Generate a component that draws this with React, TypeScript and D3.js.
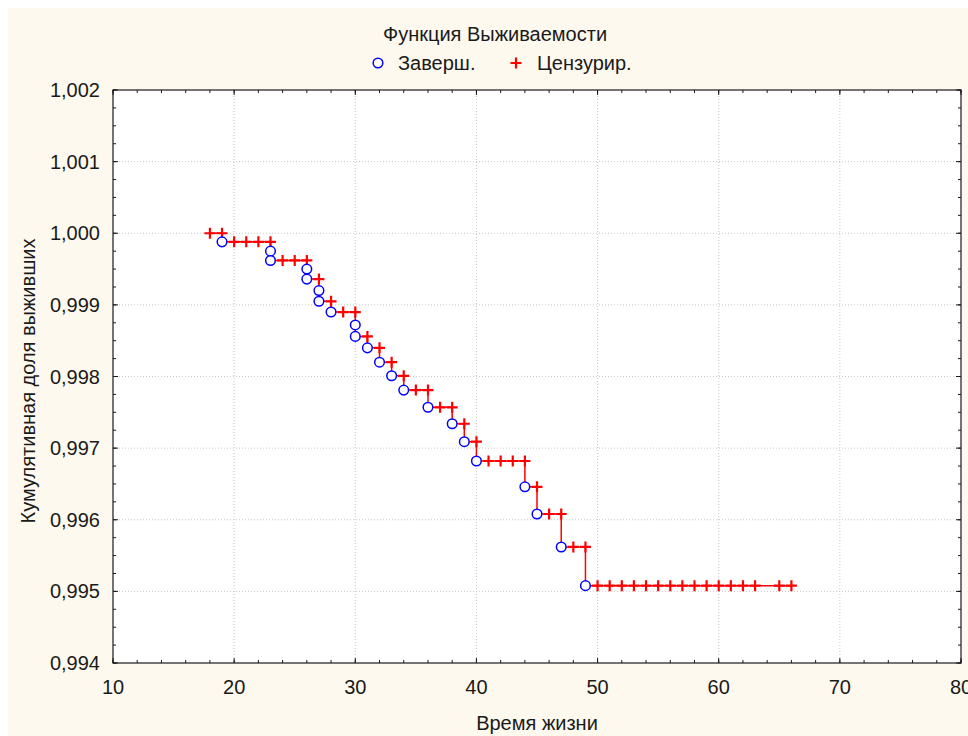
import React, { useEffect, useRef } from 'react';
import * as d3 from 'd3';

// Kaplan-Meier survival data
const completedTimes = [19, 23, 23, 26, 26, 27, 27, 28, 30, 30, 31, 32, 33, 34, 36, 38, 39, 40, 44, 45, 47, 49];
const completedSurv = [0.99988, 0.99975, 0.99962, 0.99950, 0.99936, 0.99920, 0.99905, 0.99890, 0.99872, 0.99856,
  0.99840, 0.99820, 0.99801, 0.99781, 0.99757, 0.99734, 0.99709, 0.99682, 0.99646, 0.99608, 0.99562, 0.99508];

const censoredTimes = [18, 19, 20, 21, 22, 23, 24, 25, 26, 27, 28, 29, 30, 31, 32, 33, 34, 35, 36, 37, 38, 39, 40,
  41, 42, 43, 44, 45, 46, 47, 48, 49, 50, 51, 52, 53, 54, 55, 56, 57, 58, 59, 60, 61, 62, 63, 65, 66];
const censoredSurv = [1.0, 1.0, 0.99988, 0.99988, 0.99988, 0.99988, 0.99962, 0.99962, 0.99962, 0.99936, 0.99905,
  0.99890, 0.99890, 0.99856, 0.99840, 0.99820, 0.99801, 0.99781, 0.99781, 0.99757, 0.99757, 0.99734, 0.99709,
  0.99682, 0.99682, 0.99682, 0.99682, 0.99646, 0.99608, 0.99608, 0.99562, 0.99562,
  0.99508, 0.99508, 0.99508, 0.99508, 0.99508, 0.99508, 0.99508, 0.99508, 0.99508, 0.99508, 0.99508, 0.99508,
  0.99508, 0.99508, 0.99508, 0.99508];

const xTicks = [10, 20, 30, 40, 50, 60, 70, 80];
const yTicks = [0.994, 0.995, 0.996, 0.997, 0.998, 0.999, 1.0, 1.001, 1.002];

const chartTitle = 'Функция Выживаемости';
const legendLabels = ['Заверш.', 'Цензурир.'];
const xLabel = 'Время жизни';
const yLabel = 'Кумулятивная доля выживших';

const SurvivalChart = () => {
  const svgRef = useRef(null);

  useEffect(() => {
    const W = 960;
    const H = 728;
    const margin = { top: 82, right: 7, bottom: 73, left: 105 };
    const width = W - margin.left - margin.right;
    const height = H - margin.top - margin.bottom;
    const font = '"Liberation Sans", Arial, sans-serif';
    const fs = '20px';
    const ink = '#1a1a1a';

    const root = d3.select(svgRef.current);
    root.selectAll('*').remove();
    root.attr('width', W).attr('height', H);

    root.append('rect')
      .attr('width', W).attr('height', H)
      .attr('fill', '#fdf9ee');

    const svg = root.append('g')
      .attr('transform', `translate(${margin.left},${margin.top})`);

    const x = d3.scaleLinear().domain([10, 80]).range([0, width]);
    const y = d3.scaleLinear().domain([0.994, 1.002]).range([height, 0]);

    svg.append('rect')
      .attr('width', width).attr('height', height)
      .attr('fill', '#ffffff');

    // dotted grid
    svg.selectAll('.gx')
      .data(xTicks.slice(1, -1))
      .enter().append('line')
      .attr('x1', d => x(d)).attr('x2', d => x(d))
      .attr('y1', 0).attr('y2', height)
      .attr('stroke', '#c8c8c8').attr('stroke-dasharray', '1,2');
    svg.selectAll('.gy')
      .data(yTicks.slice(1, -1))
      .enter().append('line')
      .attr('y1', d => y(d)).attr('y2', d => y(d))
      .attr('x1', 0).attr('x2', width)
      .attr('stroke', '#c8c8c8').attr('stroke-dasharray', '1,2');

    // ticks on all sides, pointing inward
    const xMinor = d3.range(10, 80.001, 2);
    const yMinor = d3.range(0.994, 1.00201, 0.00025);
    const tickLines = (vals, len, isX) => {
      vals.forEach(v => {
        if (isX) {
          svg.append('line').attr('x1', x(v)).attr('x2', x(v)).attr('y1', height).attr('y2', height - len)
            .attr('stroke', ink);
          svg.append('line').attr('x1', x(v)).attr('x2', x(v)).attr('y1', 0).attr('y2', len)
            .attr('stroke', ink);
        } else {
          svg.append('line').attr('y1', y(v)).attr('y2', y(v)).attr('x1', 0).attr('x2', len)
            .attr('stroke', ink);
          svg.append('line').attr('y1', y(v)).attr('y2', y(v)).attr('x1', width).attr('x2', width - len)
            .attr('stroke', ink);
        }
      });
    };
    tickLines(xMinor, 3, true);
    tickLines(xTicks, 5, true);
    tickLines(yMinor, 3, false);
    tickLines(yTicks, 5, false);

    svg.append('rect')
      .attr('width', width).attr('height', height)
      .attr('fill', 'none').attr('stroke', ink).attr('stroke-width', 1.2);

    // tick labels
    const fmt = d3.format('.3f');
    svg.selectAll('.xl')
      .data(xTicks)
      .enter().append('text')
      .attr('x', d => x(d)).attr('y', height + 31)
      .attr('text-anchor', 'middle')
      .style('font-family', font).style('font-size', fs).attr('fill', ink)
      .text(d => d);
    svg.selectAll('.yl')
      .data(yTicks)
      .enter().append('text')
      .attr('x', -13).attr('y', d => y(d)).attr('dy', '0.35em')
      .attr('text-anchor', 'end')
      .style('font-family', font).style('font-size', fs).attr('fill', ink)
      .text(d => fmt(d).replace('.', ','));

    // step line
    const allPts = completedTimes.map((t, i) => ({ t, s: completedSurv[i] }))
      .concat(censoredTimes.map((t, i) => ({ t, s: censoredSurv[i] })))
      .sort((a, b) => a.t - b.t || b.s - a.s);
    const step = d3.line()
      .x(d => x(d.t))
      .y(d => y(d.s))
      .curve(d3.curveStepAfter);
    svg.append('path')
      .datum(allPts)
      .attr('fill', 'none')
      .attr('stroke', '#ff0000')
      .attr('stroke-width', 1.5)
      .attr('d', step);

    const plus = (g, cx, cy) => {
      g.append('path')
        .attr('d', `M${cx - 5.5},${cy}H${cx + 5.5}M${cx},${cy - 5.5}V${cy + 5.5}`)
        .attr('stroke', '#ff0000').attr('stroke-width', 2.2).attr('fill', 'none');
    };
    const circ = (g, cx, cy) => {
      g.append('circle')
        .attr('cx', cx).attr('cy', cy).attr('r', 4.8)
        .attr('fill', '#ffffff').attr('stroke', '#0000ff').attr('stroke-width', 1.5);
    };

    censoredTimes.forEach((t, i) => plus(svg, x(t), y(censoredSurv[i])));
    completedTimes.forEach((t, i) => circ(svg, x(t), y(completedSurv[i])));

    // title and legend
    root.append('text')
      .attr('x', 487).attr('y', 33)
      .attr('text-anchor', 'middle')
      .style('font-family', font).style('font-size', fs).attr('fill', ink)
      .text(chartTitle);
    circ(root, 370, 55);
    root.append('text')
      .attr('x', 390).attr('y', 62)
      .style('font-family', font).style('font-size', fs).attr('fill', ink)
      .text(legendLabels[0]);
    plus(root, 508, 55);
    root.append('text')
      .attr('x', 529).attr('y', 62)
      .style('font-family', font).style('font-size', fs).attr('fill', ink)
      .text(legendLabels[1]);

    // axis titles
    root.append('text')
      .attr('x', margin.left + width / 2).attr('y', 722)
      .attr('text-anchor', 'middle')
      .style('font-family', font).style('font-size', fs).attr('fill', ink)
      .text(xLabel);
    root.append('text')
      .attr('transform', `translate(27,373) rotate(-90)`)
      .attr('text-anchor', 'middle')
      .style('font-family', font).style('font-size', fs).attr('fill', ink)
      .text(yLabel);
  }, []);

  return <svg ref={svgRef} style={{ position: 'fixed', left: 8, top: 8, display: 'block' }}></svg>;
};

export default function App() {
  return <SurvivalChart />;
}
